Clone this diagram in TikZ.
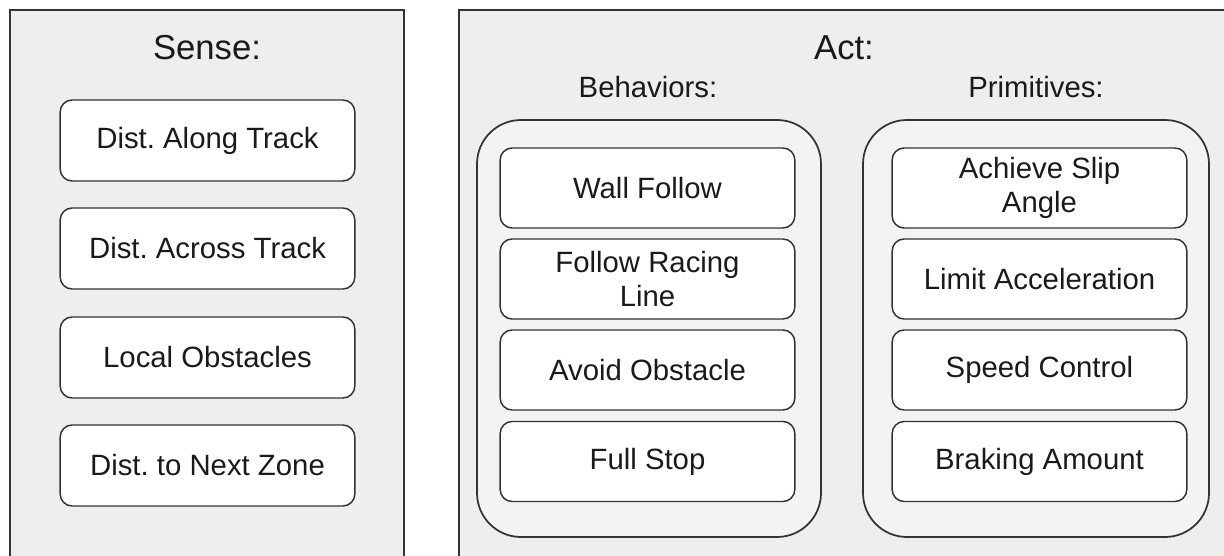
\documentclass[tikz,border=0pt]{standalone}
\usepackage{fontspec}
\setmainfont{Liberation Sans}
\frenchspacing
\definecolor{panelfill}{HTML}{EEEEEE}
\definecolor{groupfill}{HTML}{F3F3F3}
\definecolor{linecol}{HTML}{333333}
\definecolor{textcol}{HTML}{1A1A1A}
\tikzset{
  panel/.style={draw=linecol, line width=1.5pt, fill=panelfill},
  group/.style={draw=linecol, line width=1.3pt, fill=groupfill, rounded corners=33pt},
  itembox/.style={draw=linecol, line width=1.1pt, fill=white, rounded corners=9pt,
    rectangle, inner sep=0pt, outer sep=0pt, minimum width=221pt, minimum height=60pt,
    align=center, text=textcol, font=\fontsize{22}{25.5}\selectfont},
  actbox/.style={itembox, minimum height=60pt},
  titletext/.style={text=textcol, font=\fontsize{26}{30}\selectfont, inner sep=0pt},
  subtext/.style={text=textcol, font=\fontsize{22}{25.5}\selectfont, inner sep=0pt}
}
\begin{document}
\begin{tikzpicture}[x=0.75pt, y=-0.75pt]
\useasboundingbox (0,0) rectangle (1224,556);
\clip (0,0) rectangle (1224,556);
% panels
\draw[panel] (10,10) rectangle (404,570);
\draw[panel] (459,10) rectangle (1240,570);
% groups
\node[group, draw, minimum width=258pt, minimum height=312.75pt, inner sep=0pt] (beh) at (649,328.5) {};
\node[group, draw, minimum width=259.5pt, minimum height=312.75pt, inner sep=0pt] (prim) at (1036,328.5) {};
% titles
\node[titletext] (sense) at (207,48) {Sense:};
\node[titletext] (act) at (844,48) {Act:};
\node[subtext] (behT) at (648,87) {Behaviors:};
\node[subtext] (primT) at (1036,87) {Primitives:};
% sense boxes
\node[itembox, minimum height=60.75pt] (s1) at (207.5,140.5) {Dist. Along Track};
\node[itembox, minimum height=60.75pt] (s2) at (207.5,248.5) {Dist. Across Track};
\node[itembox, minimum height=60.75pt] (s3) at (207.5,357.5) {Local Obstacles};
\node[itembox, minimum height=60.75pt] (s4) at (207.5,465.5) {Dist. to Next Zone};
% behaviors
\node[actbox] (b1) at (647.5,188) {Wall Follow};
\node[actbox] (b2) at (647.5,279) {Follow Racing\\Line};
\node[actbox] (b3) at (647.5,370) {Avoid Obstacle};
\node[actbox] (b4) at (647.5,461.5) {Full Stop};
% primitives
\node[actbox] (p1) at (1039.5,188) {Achieve Slip\\Angle};
\node[actbox] (p2) at (1039.5,279) {Limit Acceleration};
\node[actbox] (p3) at (1039.5,370) {Speed Control};
\node[actbox] (p4) at (1039.5,461.5) {Braking Amount};
\end{tikzpicture}
\end{document}
